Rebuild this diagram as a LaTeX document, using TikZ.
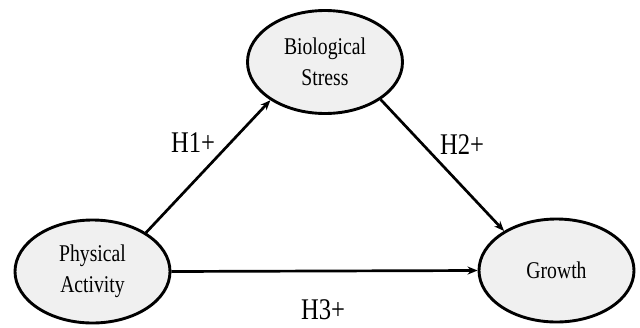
\documentclass[tikz,border=0pt]{standalone}
\usepackage{fontspec}
\setmainfont[FakeStretch=0.82]{Liberation Serif}
\usepackage{tikz}
\usetikzlibrary{positioning,arrows.meta,shapes.geometric}
\definecolor{nodefill}{HTML}{F0F0F0}

\begin{document}
\begin{tikzpicture}[x=1pt, y=-1pt,
    construct/.style={ellipse, draw, line width=2.9pt, fill=nodefill,
      minimum width=155pt, minimum height=103pt, inner sep=0pt,
      align=center, font=\fontsize{24}{31}\selectfont},
    path/.style={line width=2.7pt, -{Stealth[length=10pt,width=8pt]}},
    hyp/.style={font=\fontsize{30}{34}\selectfont}]
  % Marco del dibujo
  \useasboundingbox (0,0) rectangle (640,327);

  % Constructos
  \node[construct] (bio) at (325,62) {Biological\\Stress};
  \node[construct] (pa) at (92.5,271.5) {Physical\\Activity};
  \node[construct] (gro) at (556.5,270.5) {Growth};

  % Relaciones
  \draw[path] (pa.36.6) -- (bio.-145);
  \draw[path] (bio.-34.6) -- (gro.143.4);
  \draw[path] (pa.east) -- (gro.west);

  % Hipotesis
  \node[hyp] (h1) at (193,143) {H1+};
  \node[hyp] (h2) at (462,145) {H2+};
  \node[hyp] (h3) at (323,310) {H3+};
\end{tikzpicture}
\end{document}
